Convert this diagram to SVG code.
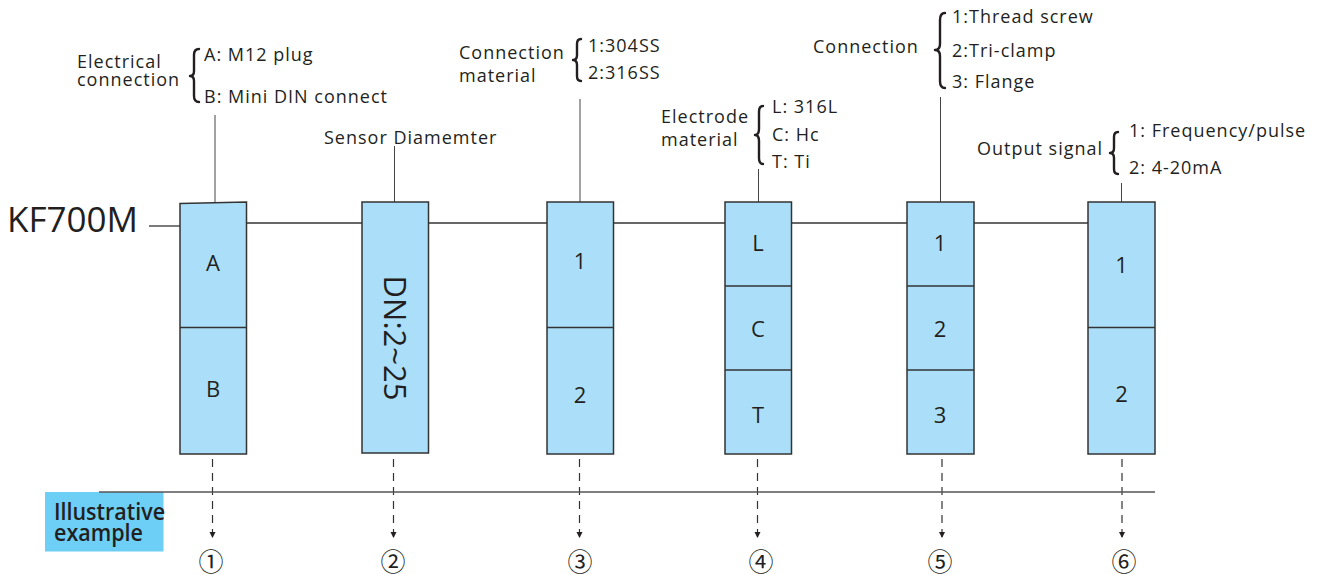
<svg xmlns="http://www.w3.org/2000/svg" width="1321" height="574" viewBox="0 0 1321 574">
<defs>
<style>
.lbl{font-family:"Open Sans","Noto Sans","DejaVu Sans",sans-serif;font-size:18px;letter-spacing:1px;fill:#231f20}
.big{font-family:"Open Sans","Noto Sans","DejaVu Sans",sans-serif;font-size:35px;fill:#231f20}
.cell{font-family:"Open Sans","Noto Sans","DejaVu Sans",sans-serif;font-size:22px;fill:#231f20;text-anchor:middle}
.dn{font-family:"Open Sans","Noto Sans","DejaVu Sans",sans-serif;font-size:31px;fill:#231f20;text-anchor:middle}
.ill{font-family:"Open Sans","Noto Sans","DejaVu Sans",sans-serif;font-size:23px;font-weight:600;fill:#231f20}
.circ{font-family:"Noto Sans CJK SC","Noto Sans CJK JP","DejaVu Sans",sans-serif;font-size:25px;fill:#231f20;text-anchor:middle}
.box{fill:#abdff9;stroke:#333;stroke-width:1.5}
.div{stroke:#333;stroke-width:1.5;fill:none}
.ln{stroke:#333;stroke-width:1.3;fill:none}
.lead{stroke:#444;stroke-width:1;fill:none}
.dash{stroke:#333;stroke-width:1.2;stroke-dasharray:8 6;fill:none}
.brace{stroke:#231f20;stroke-width:2.4;fill:none;stroke-linecap:round;stroke-linejoin:round}
</style>
<marker id="arr" viewBox="0 0 10 10" refX="10" refY="5" markerWidth="6" markerHeight="11" markerUnits="userSpaceOnUse" orient="auto">
<path d="M0,0 L10,5 L0,10 Z" fill="#231f20"/>
</marker>
</defs>

<rect width="1321" height="574" fill="#ffffff"/>

<g id="connectors">
<line class="ln" x1="149" y1="226" x2="180" y2="226"/>
<line class="ln" x1="246" y1="223" x2="1088" y2="223"/>
<line class="lead" x1="215" y1="115" x2="215" y2="203"/>
<line class="lead" x1="394.5" y1="146" x2="394.5" y2="202"/>
<line class="lead" x1="580" y1="99" x2="580" y2="202"/>
<line class="lead" x1="758.5" y1="169" x2="758.5" y2="202"/>
<line class="lead" x1="940.5" y1="97" x2="940.5" y2="202"/>
<line class="lead" x1="1121.5" y1="183" x2="1121.5" y2="202"/>
<line class="dash" x1="212.5" y1="459" x2="212.5" y2="538" marker-end="url(#arr)"/>
<line class="dash" x1="393.5" y1="459" x2="393.5" y2="538" marker-end="url(#arr)"/>
<line class="dash" x1="579.5" y1="459" x2="579.5" y2="538" marker-end="url(#arr)"/>
<line class="dash" x1="757.5" y1="459" x2="757.5" y2="538" marker-end="url(#arr)"/>
<line class="dash" x1="942" y1="459" x2="942" y2="538" marker-end="url(#arr)"/>
<line class="dash" x1="1122" y1="459" x2="1122" y2="538" marker-end="url(#arr)"/>
</g>

<g id="title">
<text class="big" x="7" y="232">KF700M</text>
</g>

<g id="node-electrical">
<text class="lbl" x="77" y="68" letter-spacing="0.6">Electrical</text>
<text class="lbl" x="77" y="86" letter-spacing="0.6">connection</text>
<path class="brace" d="M199,49 Q194,49 194,55 L194,71 Q194,76 190,76 Q194,76 194,81 L194,96 Q194,102 199,102"/>
<text class="lbl" x="204" y="61">A: M12 plug</text>
<text class="lbl" x="204" y="103">B: Mini DIN connect</text>
<polygon class="box" points="180,203.5 246.5,202 246.5,454 180,454"/>
<line class="div" x1="180" y1="327.5" x2="246.5" y2="327.5"/>
<text class="cell" x="213" y="271">A</text>
<text class="cell" x="213" y="397">B</text>
</g>

<g id="node-diameter">
<text class="lbl" x="324" y="144">Sensor Diamemter</text>
<rect class="box" x="362" y="202" width="66.5" height="251"/>
<text class="dn" transform="translate(384,338) rotate(90)">DN:2~25</text>
</g>

<g id="node-conn-material">
<text class="lbl" x="459" y="59">Connection</text>
<text class="lbl" x="459" y="82">material</text>
<path class="brace" d="M581,39 Q577,39 577,44 L577,55 Q577,60 573,60 Q577,60 577,65 L577,76 Q577,81 581,81"/>
<text class="lbl" x="588" y="52">1:304SS</text>
<text class="lbl" x="588" y="79">2:316SS</text>
<rect class="box" x="547" y="202" width="66.5" height="252"/>
<line class="div" x1="547" y1="327.5" x2="613.5" y2="327.5"/>
<text class="cell" x="580" y="269">1</text>
<text class="cell" x="580" y="403">2</text>
</g>

<g id="node-electrode">
<text class="lbl" x="661" y="123">Electrode</text>
<text class="lbl" x="661" y="146">material</text>
<path class="brace" d="M763,106 Q759,106 759,112 L759,129 Q759,135 755,135 Q759,135 759,141 L759,158 Q759,164 763,164"/>
<text class="lbl" x="772" y="113">L: 316L</text>
<text class="lbl" x="772" y="141">C: Hc</text>
<text class="lbl" x="772" y="168">T: Ti</text>
<rect class="box" x="725" y="202" width="66.5" height="252"/>
<line class="div" x1="725" y1="286" x2="791.5" y2="286"/>
<line class="div" x1="725" y1="370" x2="791.5" y2="370"/>
<text class="cell" x="758" y="251">L</text>
<text class="cell" x="758" y="337">C</text>
<text class="cell" x="758" y="423">T</text>
</g>

<g id="node-connection">
<text class="lbl" x="813" y="53">Connection</text>
<path class="brace" d="M945,13 Q940,13 940,20 L940,44 Q940,50 935,50 Q940,50 940,56 L940,81 Q940,88 945,88"/>
<text class="lbl" x="952" y="23">1:Thread screw</text>
<text class="lbl" x="952" y="57">2:Tri-clamp</text>
<text class="lbl" x="952" y="88">3: Flange</text>
<rect class="box" x="907" y="202" width="67" height="252"/>
<line class="div" x1="907" y1="286" x2="974" y2="286"/>
<line class="div" x1="907" y1="370" x2="974" y2="370"/>
<text class="cell" x="940" y="251">1</text>
<text class="cell" x="940" y="337">2</text>
<text class="cell" x="940" y="423">3</text>
</g>

<g id="node-output">
<text class="lbl" x="977" y="155">Output signal</text>
<path class="brace" d="M1118,132 Q1114,132 1114,137 L1114,148 Q1114,153 1110,153 Q1114,153 1114,158 L1114,169 Q1114,174 1118,174"/>
<text class="lbl" x="1129" y="137">1: Frequency/pulse</text>
<text class="lbl" x="1129" y="174">2: 4-20mA</text>
<rect class="box" x="1088" y="202" width="67" height="252"/>
<line class="div" x1="1088" y1="327.5" x2="1155" y2="327.5"/>
<text class="cell" x="1121.5" y="273">1</text>
<text class="cell" x="1121.5" y="402">2</text>
</g>

<g id="example">
<rect x="45" y="492" width="118.5" height="59.5" fill="#6dcff6"/>
<line x1="99" y1="492" x2="1155" y2="492" stroke="#555" stroke-width="1.5"/>
<text class="ill" x="54" y="520" textLength="111" lengthAdjust="spacingAndGlyphs">Illustrative</text>
<text class="ill" x="54" y="541" textLength="89" lengthAdjust="spacingAndGlyphs">example</text>
</g>

<g id="numbers">
<text class="circ" x="211" y="571">①</text>
<text class="circ" x="393" y="571">②</text>
<text class="circ" x="580" y="571">③</text>
<text class="circ" x="761" y="571">④</text>
<text class="circ" x="940" y="571">⑤</text>
<text class="circ" x="1124" y="571">⑥</text>
</g>
</svg>
